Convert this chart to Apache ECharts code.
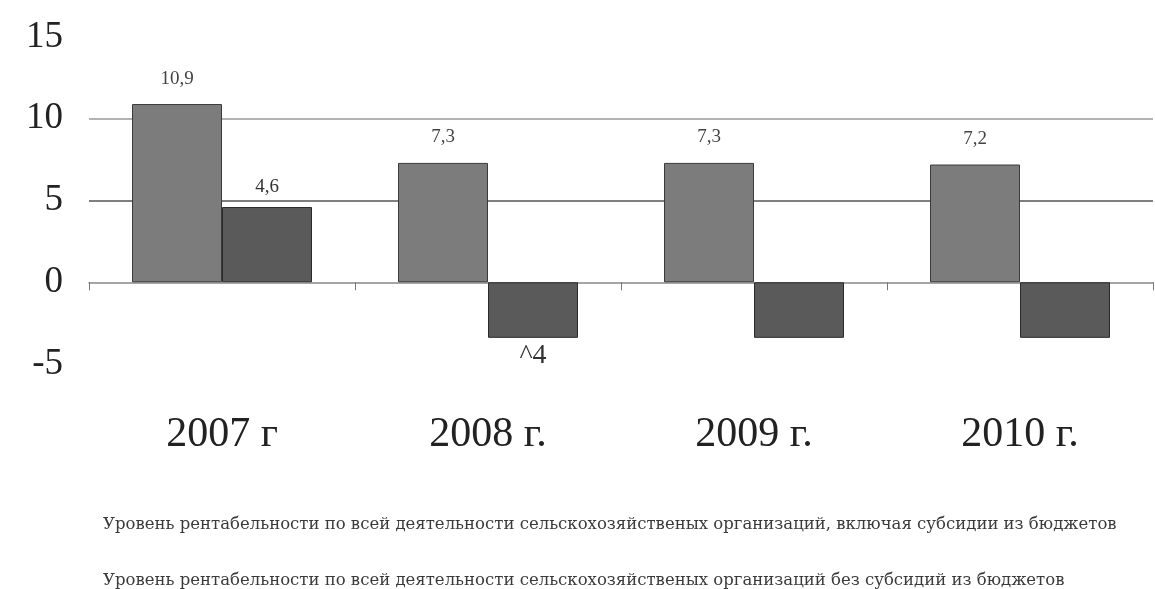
<!DOCTYPE html>
<html>
<head>
<meta charset="utf-8">
<script src="https://cdn.jsdelivr.net/npm/echarts@6/dist/echarts.min.js"></script>
<style>
  html, body { margin: 0; padding: 0; background: #fff; }
  #chart { width: 1155px; height: 589px; }
</style>
</head>
<body>
<div id="chart"></div>
<script>
// Years on the category axis
const years = ['2007 г', '2008 г.', '2009 г.', '2010 г.'];
// Profitability level including budget subsidies, %
const withSubsidies = [10.9, 7.3, 7.3, 7.2];
// Profitability level without budget subsidies, %
const withoutSubsidies = [4.6, -3.4, -3.4, -3.4];
// Text printed next to the bars of the second series
const withoutLabels = ['4,6', '^4', '', ''];
// Series names shown in the legend
const nameWith = 'Уровень рентабельности по всей деятельности сельскохозяйственых организаций, включая субсидии из бюджетов';
const nameWithout = 'Уровень рентабельности по всей деятельности сельскохозяйственых организаций без субсидий из бюджетов';
// Value axis ticks
const yMin = -5, yMax = 15, yStep = 5;

const serif = '"Liberation Serif", "DejaVu Serif", serif';
const chart = echarts.init(document.getElementById('chart'));

// One legend line per series, stacked under the chart
const legendLine = (name, top) => ({
  left: 92,
  top: top,
  itemWidth: 0,
  itemHeight: 0,
  icon: 'rect',
  selectedMode: false,
  textStyle: { fontFamily: '"DejaVu Serif", serif', fontSize: 16.5, color: '#3a3a3a' },
  data: [name]
});

chart.setOption({
  backgroundColor: '#ffffff',
  animation: false,
  legend: [legendLine(nameWith, 511), legendLine(nameWithout, 567)],
  grid: { left: 89, right: 2, top: 37, height: 327, containLabel: false },
  xAxis: {
    type: 'category',
    data: years,
    axisLine: { onZero: true, lineStyle: { color: '#888', width: 1.5 } },
    axisTick: { show: true, alignWithLabel: false, length: 8, lineStyle: { color: '#777' } },
    axisLabel: { margin: 50, fontFamily: serif, fontSize: 42, color: '#222' }
  },
  yAxis: {
    type: 'value',
    min: yMin,
    max: yMax,
    interval: yStep,
    axisLine: { show: false },
    axisTick: { show: false },
    axisLabel: { margin: 26, fontFamily: serif, fontSize: 37, color: '#222' },
    splitLine: {
      show: true,
      lineStyle: { color: ['transparent', 'transparent', '#555', '#999', 'transparent'], width: 1.5 }
    }
  },
  series: [
    {
      name: nameWith,
      type: 'bar',
      barWidth: 90,
      barGap: '0%',
      data: withSubsidies,
      itemStyle: { color: '#7c7c7c', borderColor: '#3a3a3a', borderWidth: 1 },
      label: {
        show: true,
        position: 'top',
        distance: 16,
        fontFamily: serif,
        fontSize: 19,
        color: '#444',
        formatter: p => String(p.value).replace('.', ',')
      }
    },
    {
      name: nameWithout,
      type: 'bar',
      barWidth: 90,
      data: withoutSubsidies.map((v, i) => ({
        value: v,
        label: {
          show: withoutLabels[i] !== '',
          position: v < 0 ? 'bottom' : 'top',
          distance: v < 0 ? 4 : 11,
          fontSize: v < 0 ? 28 : 19,
          formatter: withoutLabels[i]
        }
      })),
      itemStyle: { color: '#5a5a5a', borderColor: '#2a2a2a', borderWidth: 1 },
      label: { fontFamily: serif, color: '#333' }
    }
  ]
});
</script>
</body>
</html>
